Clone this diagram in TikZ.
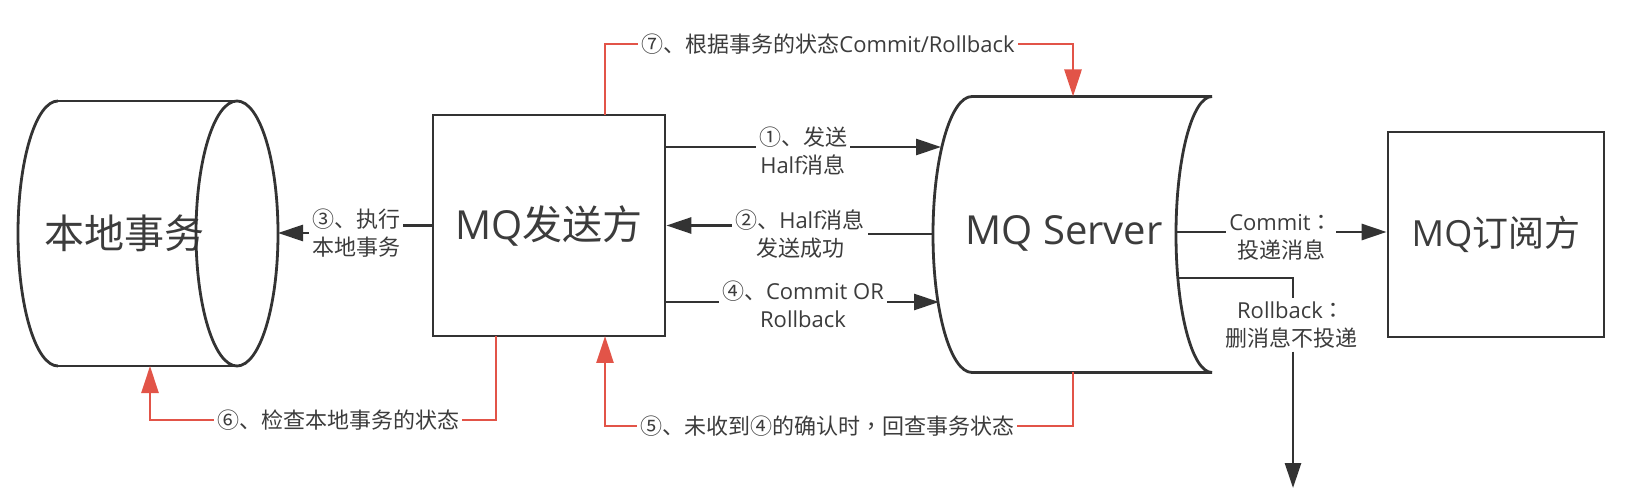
\documentclass[tikz,border=0pt]{standalone}
\usepackage{fontspec}
\setmainfont{Open Sans}
\newfontfamily\cjk{Noto Sans CJK SC}
\newfontfamily\cjkp{Noto Sans CJK TC}
\usetikzlibrary{arrows.meta}
\definecolor{linegray}{RGB}{51,51,51}
\definecolor{txtgray}{RGB}{60,60,60}
\definecolor{checkred}{RGB}{226,84,72}

\begin{document}
\begin{tikzpicture}[
	x = 1pt, y = -1pt, line width = 2.8pt,
	line/.style = {draw = linegray},
	arrow/.style = {draw = linegray, -{Triangle[length=25pt, width=16pt]}},
	redline/.style = {draw = checkred},
	redarrow/.style = {draw = checkred, -{Triangle[length=27pt, width=17pt]}},
	bigbox/.style = {draw = linegray, rectangle, inner sep = 0pt, text = txtgray,
		font = \fontsize{40}{48}\selectfont},
	title/.style = {text = txtgray, inner sep = 0pt, font = \fontsize{40}{48}\selectfont},
	note/.style = {fill = white, text = txtgray, align = center, inner sep = 2pt,
		font = \fontsize{22}{28}\selectfont}
	]
	\useasboundingbox (0,0) rectangle (1638,502);

	% main parts
	\node[title] (local) at (124,233) {\cjk 本地事务};
	\node[bigbox, minimum width = 232pt, minimum height = 221pt] (sender) at (549,225.5) {MQ{\cjk 发送方}};
	\node[title] (server) at (1064,233) {MQ Server};
	\node[bigbox, minimum width = 216pt, minimum height = 205pt,
		font = \fontsize{36}{44}\selectfont] (sub) at (1496,234.5) {MQ{\cjk 订阅方}};

	% cylinder of the local transaction
	\draw[line] (58,101) -- (237,101);
	\draw[line] (58,366) -- (237,366);
	\draw[line] (58,101) arc[start angle = 270, end angle = 90, x radius = 40, y radius = 132.5];
	\draw[line] (237,233.5) ellipse [x radius = 41, y radius = 132.5];
	\coordinate (localR) at (278,233);
	\coordinate (localB) at (150,366);

	% outline of the server
	\draw[line] (972,96.5) -- (1212,96.5)
		arc[start angle = 270, end angle = 90, x radius = 36, y radius = 138]
		-- (972,372.5)
		arc[start angle = 90, end angle = 270, x radius = 39, y radius = 138] -- cycle;
	\coordinate (srvIn1) at (941,147);
	\coordinate (srvOut2) at (934,234);
	\coordinate (srvIn4) at (939,302);
	\coordinate (srvTop) at (1073,96.5);
	\coordinate (srvBot) at (1073,372.5);
	\coordinate (srvCommit) at (1177,232);
	\coordinate (srvRoll) at (1178,278);
	\coordinate (drop) at (1293,488);
	\coordinate (sendTop) at (605,115);
	\coordinate (sendBotL) at (496,336);
	\coordinate (sendBotR) at (605,336);

	% labels
	\node[note] (l1) at (803,151) {{\cjk ①、发送}\\Half{\cjk 消息}};
	\node[note] (l2) at (800,234) {{\cjk ②、}Half{\cjk 消息}\\{\cjk 发送成功}};
	\node[note] (l3) at (356,233) {{\cjk ③、执行}\\{\cjk 本地事务}};
	\node[note] (l4) at (803,304) {{\cjk ④、}Commit OR\\Rollback};
	\node[note] (l5) at (827,426) {{\cjk ⑤、未收到④的确认时}{\cjkp ，}{\cjk 回查事务状态}};
	\node[note] (l6) at (338,420) {\cjk ⑥、检查本地事务的状态};
	\node[note] (l7) at (828,44) {{\cjk ⑦、根据事务的状态}Commit/Rollback};
	\node[note] (lc) at (1281,237) {Commit{\cjkp ：}\\{\cjk 投递消息}};
	\node[note] (lr) at (1291,325) {Rollback{\cjkp ：}\\{\cjk 删消息不投递}};

	% black connectors
	\draw[line] (sender.east |- srvIn1) -- (l1.west |- srvIn1);
	\draw[arrow] (l1.east |- srvIn1) -- (srvIn1);
	\draw[line] (srvOut2) -- (l2.east);
	\draw[arrow] (l2.west |- sender.east) -- (sender.east);
	\draw[line] (sender.west) -- (l3.east |- sender.west);
	\draw[arrow] (l3.west) -- (localR);
	\draw[line] (sender.east |- srvIn4) -- (l4.west |- srvIn4);
	\draw[arrow] (l4.east |- srvIn4) -- (srvIn4);
	\draw[line] (srvCommit) -- (lc.west |- srvCommit);
	\draw[arrow] (lc.east |- srvCommit) -- (sub.west |- srvCommit);
	\draw[line] (srvRoll) -| (lr.north -| drop);
	\draw[arrow] (lr.south -| drop) -- (drop);

	% red connectors
	\draw[redline] (sendTop) |- (l7.west);
	\draw[redarrow] (l7.east) -| (srvTop);
	\draw[redline] (srvBot) |- (l5.east);
	\draw[redarrow] (l5.west) -| (sendBotR);
	\draw[redline] (sendBotL) |- (l6.east);
	\draw[redarrow] (l6.west) -| (localB);
\end{tikzpicture}
\end{document}
